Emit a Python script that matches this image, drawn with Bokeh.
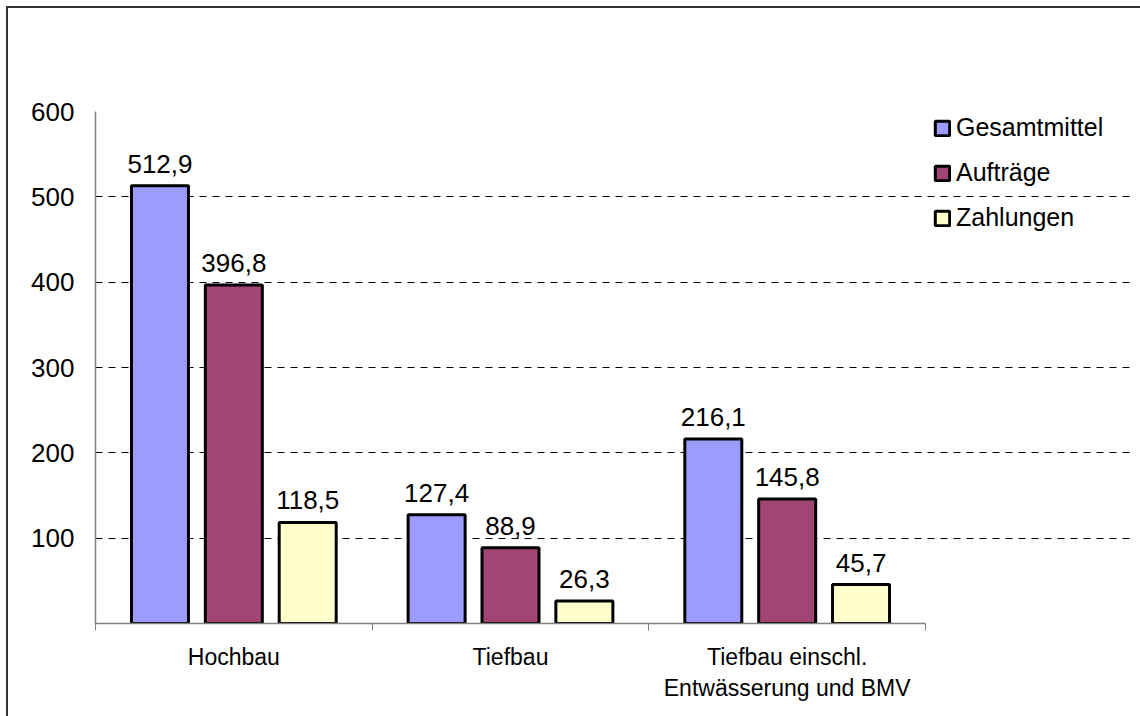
from bokeh.plotting import figure
from bokeh.models import ColumnDataSource, FixedTicker, Legend, LegendItem
from bokeh.embed import file_html
from bokeh.resources import INLINE
from bokeh.core.properties import value

categories = ["Hochbau", "Tiefbau", "Tiefbau einschl.\nEntwässerung und BMV"]
series_names = ["Gesamtmittel", "Aufträge", "Zahlungen"]
gesamtmittel = [512.9, 127.4, 216.1]
auftraege = [396.8, 88.9, 145.8]
zahlungen = [118.5, 26.3, 45.7]
y_ticks = [100, 200, 300, 400, 500, 600]

series_values = [gesamtmittel, auftraege, zahlungen]
colors = ["#9C9CFF", "#A14574", "#FFFFCC"]
offsets = [-0.267, 0.0, 0.267]
bar_width = 0.206
FONT = "Liberation Sans"

W, H = 1134, 716
LEFT = 95
plot_px = 830.0                       # pixel width of the category area
xmax = 3 * (W - LEFT) / plot_px       # extra room on the right for the legend

p = figure(width=W, height=H, x_range=(0, xmax), y_range=(0, 600),
           output_backend="svg", toolbar_location=None,
           min_border_left=LEFT, min_border_right=0,
           min_border_top=111, min_border_bottom=93)
p.outline_line_color = None
p.background_fill_color = "white"
p.border_fill_color = "white"

renderers = []
for name, vals, col, off in zip(series_names, series_values, colors, offsets):
    xs = [i + 0.5 + off for i in range(len(categories))]
    src = ColumnDataSource(dict(x=xs, top=vals,
                                lab=[f"{v:.1f}".replace(".", ",") for v in vals]))
    r = p.vbar(x="x", top="top", width=bar_width, bottom=0, source=src,
               fill_color=col, line_color="black", line_width=3)
    renderers.append((name, r))
    p.text(x="x", y="top", text="lab", source=src, text_align="center",
           text_baseline="bottom", y_offset=-13,
           text_font=value(FONT), text_font_size="26px", text_color="black")

# x axis
p.xaxis.bounds = (0, 3)
p.xaxis.ticker = FixedTicker(ticks=[0.5, 1.5, 2.5], minor_ticks=[0, 1, 2, 3])
p.xaxis.major_label_overrides = {0.5: categories[0], 1.5: categories[1], 2.5: categories[2]}
p.xaxis.major_tick_in = 0
p.xaxis.major_tick_out = 0
p.xaxis.minor_tick_in = 0
p.xaxis.minor_tick_out = 7
p.xaxis.minor_tick_line_color = "#808080"
p.xaxis.axis_line_color = "#808080"
p.xaxis.axis_line_width = 1.5
p.xaxis.major_label_standoff = 13
p.xaxis.major_label_text_font = FONT
p.xaxis.major_label_text_font_size = "23px"
p.xaxis.major_label_text_color = "black"
p.xgrid.grid_line_color = None

# y axis
p.yaxis.ticker = FixedTicker(ticks=y_ticks)
p.yaxis.major_tick_in = 0
p.yaxis.major_tick_out = 0
p.yaxis.minor_tick_line_color = None
p.yaxis.axis_line_color = "#808080"
p.yaxis.axis_line_width = 1.5
p.yaxis.major_label_standoff = 21
p.yaxis.major_label_text_font = FONT
p.yaxis.major_label_text_font_size = "26px"
p.yaxis.major_label_text_color = "black"
p.ygrid.grid_line_color = "black"
p.ygrid.grid_line_dash = "7 6"
p.ygrid.grid_line_width = 1
p.ygrid.bounds = (0, 3)

legend = Legend(items=[LegendItem(label=n, renderers=[r]) for n, r in renderers],
                location=(838, 391), margin=0, padding=4, spacing=16,
                glyph_width=18, glyph_height=18, label_standoff=5,
                label_text_font=FONT, label_text_font_size="25px",
                label_text_color="black", border_line_color=None,
                background_fill_alpha=0)
p.add_layout(legend)

html = file_html(p, INLINE)
# chart-area border: only its top and left edges fall inside the picture
border_css = ("<style>body::after{content:'';position:fixed;left:6px;top:6px;"
              "right:-20px;bottom:-20px;border-top:2px solid #333333;"
              "border-left:2px solid #333333;pointer-events:none;z-index:10;}</style>")
html = html.replace("</head>", border_css + "</head>", 1)
open("out.html", "w").write(html)
